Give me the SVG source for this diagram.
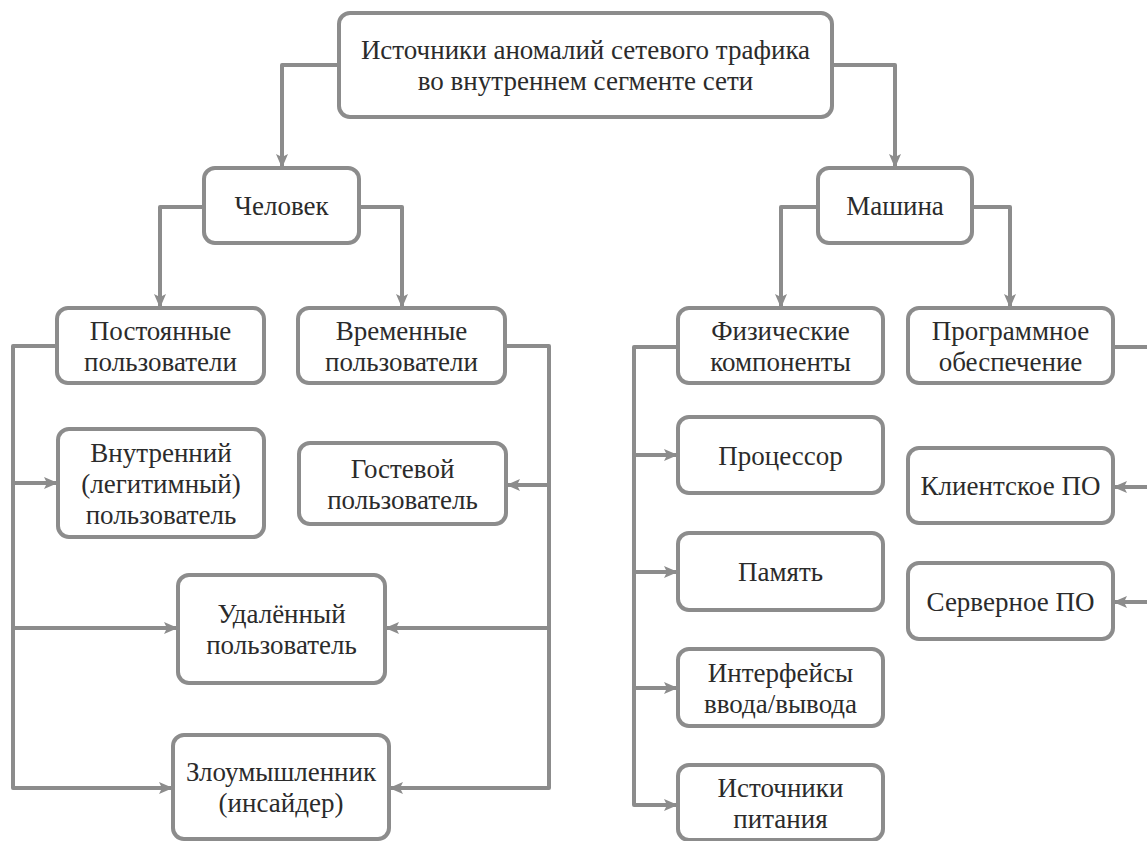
<svg xmlns="http://www.w3.org/2000/svg" width="1147" height="841" viewBox="0 0 1147 841">
<style>
.box{fill:#fff;stroke:#8c8c8c;stroke-width:4}
.t{font-family:'Liberation Serif','Times New Roman',serif;font-size:27px;fill:#2b2b2b;text-anchor:middle}
.c{fill:none;stroke:#8c8c8c;stroke-width:4;stroke-linejoin:round;marker-end:url(#ah)}
.n{fill:none;stroke:#8c8c8c;stroke-width:4;stroke-linejoin:round}
</style>
<defs>
<marker id="ah" markerUnits="userSpaceOnUse" markerWidth="14" markerHeight="12" refX="13" refY="6" orient="auto">
<path d="M0,0 L14,6 L0,12 L3,6 z" fill="#8c8c8c"/>
</marker>
</defs>
<rect width="1147" height="841" fill="#fff"/>
<g id="connectors">
<path class="c" d="M339,65 H282 V167"/>
<path class="c" d="M832,65 H895 V167"/>
<path class="c" d="M204,207 H160 V307"/>
<path class="c" d="M359,207 H402 V307"/>
<path class="c" d="M818,207 H781 V307"/>
<path class="c" d="M972,207 H1010 V307"/>
<path class="c" d="M57,346 H13 V788 H172"/>
<path class="c" d="M13,483 H57"/>
<path class="c" d="M13,628 H177"/>
<path class="c" d="M505,346 H549 V788 H390"/>
<path class="c" d="M549,485 H507"/>
<path class="c" d="M549,628 H386"/>
<path class="c" d="M678,347 H634 V805 H677"/>
<path class="c" d="M634,455 H677"/>
<path class="c" d="M634,572 H677"/>
<path class="c" d="M634,688 H677"/>
<path class="n" d="M1113,347 H1150"/>
<path class="c" d="M1150,487 H1114"/>
<path class="c" d="M1150,602 H1114"/>
</g>
<g id="root"><rect class="box" x="339" y="13" width="493" height="104" rx="11"/><text class="t" x="585.5" y="59">Источники аномалий сетевого трафика</text><text class="t" x="585.5" y="90">во внутреннем сегменте сети</text></g>
<g id="human"><rect class="box" x="204" y="168" width="155" height="75" rx="11"/><text class="t" x="281.5" y="215">Человек</text></g>
<g id="machine"><rect class="box" x="818" y="168" width="154" height="75" rx="11"/><text class="t" x="895" y="215">Машина</text></g>
<g id="permanent"><rect class="box" x="57" y="308" width="207" height="75" rx="11"/><text class="t" x="160.5" y="339.5">Постоянные</text><text class="t" x="160.5" y="370.5">пользователи</text></g>
<g id="temporary"><rect class="box" x="298" y="308" width="207" height="75" rx="11"/><text class="t" x="401.5" y="339.5">Временные</text><text class="t" x="401.5" y="370.5">пользователи</text></g>
<g id="physical"><rect class="box" x="678" y="308" width="205" height="75" rx="11"/><text class="t" x="780.5" y="339.5">Физические</text><text class="t" x="780.5" y="370.5">компоненты</text></g>
<g id="software"><rect class="box" x="908" y="308" width="205" height="75" rx="11"/><text class="t" x="1010.5" y="339.5">Программное</text><text class="t" x="1010.5" y="370.5">обеспечение</text></g>
<g id="internal"><rect class="box" x="58" y="429" width="206" height="108" rx="11"/><text class="t" x="161" y="461.5">Внутренний</text><text class="t" x="161" y="492.5">(легитимный)</text><text class="t" x="161" y="523.5">пользователь</text></g>
<g id="guest"><rect class="box" x="299" y="443" width="207" height="81" rx="11"/><text class="t" x="402.5" y="477.5">Гостевой</text><text class="t" x="402.5" y="508.5">пользователь</text></g>
<g id="remote"><rect class="box" x="178" y="575" width="207" height="108" rx="11"/><text class="t" x="281.5" y="623">Удалённый</text><text class="t" x="281.5" y="654">пользователь</text></g>
<g id="insider"><rect class="box" x="173" y="735" width="216" height="104" rx="11"/><text class="t" x="281" y="781">Злоумышленник</text><text class="t" x="281" y="812">(инсайдер)</text></g>
<g id="cpu"><rect class="box" x="678" y="417" width="205" height="76" rx="11"/><text class="t" x="780.5" y="464.5">Процессор</text></g>
<g id="memory"><rect class="box" x="678" y="533" width="205" height="77" rx="11"/><text class="t" x="780.5" y="581">Память</text></g>
<g id="io"><rect class="box" x="678" y="649" width="205" height="77" rx="11"/><text class="t" x="780.5" y="681.5">Интерфейсы</text><text class="t" x="780.5" y="712.5">ввода/вывода</text></g>
<g id="power"><rect class="box" x="678" y="765" width="205" height="75" rx="11"/><text class="t" x="780.5" y="797">Источники</text><text class="t" x="780.5" y="828">питания</text></g>
<g id="client"><rect class="box" x="908" y="448" width="205" height="75" rx="11"/><text class="t" x="1010.5" y="495">Клиентское ПО</text></g>
<g id="server"><rect class="box" x="908" y="563" width="205" height="76" rx="11"/><text class="t" x="1010.5" y="610.5">Серверное ПО</text></g>
</svg>
